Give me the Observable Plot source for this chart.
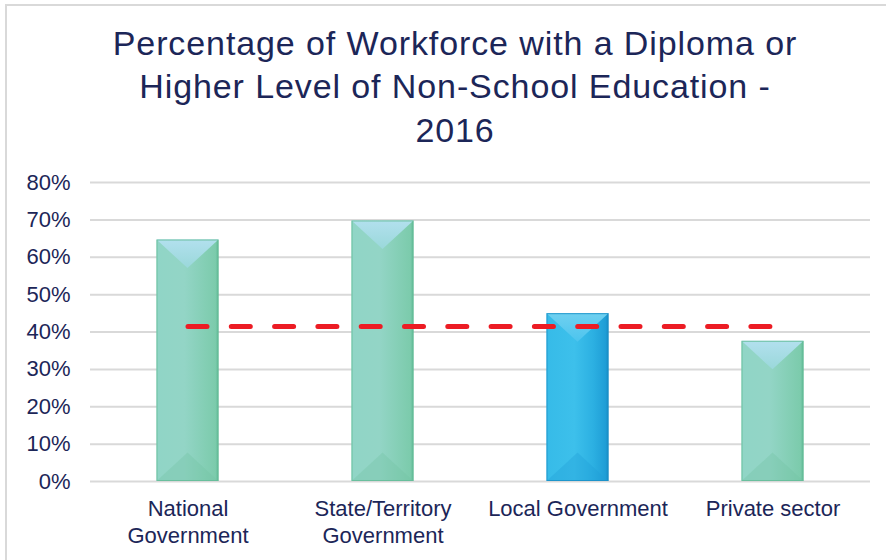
<!DOCTYPE html>
<html>
<head>
<meta charset="utf-8">
<script src="https://cdn.jsdelivr.net/npm/d3@7"></script>
<script src="https://cdn.jsdelivr.net/npm/@observablehq/plot@0.6"></script>
<style>
  html, body { margin: 0; padding: 0; background: #ffffff; overflow: hidden; }
  #wrap { position: relative; width: 886px; height: 560px; background: #fff; font-family: "Liberation Sans", Arial, sans-serif; }
  #bt { position: absolute; left: 5px; top: 4px; width: 881px; height: 2px; background: #d9d9d9; }
  #bl { position: absolute; left: 5px; top: 4px; width: 2px; height: 556px; background: #d9d9d9; }
  #title { position: absolute; left: 0; top: 22px; width: 910px; text-align: center; color: #1c2658;
           font-size: 34px; line-height: 43.3px; letter-spacing: 0.9px; }
  #chart { position: absolute; left: 0; top: 160px; }
</style>
</head>
<body>
<div id="wrap">
  <div id="bt"></div>
  <div id="bl"></div>
  <div id="title">Percentage of Workforce with a Diploma or<br>Higher Level of Non-School Education -<br>2016</div>
  <div id="chart"></div>
</div>
<script>
const categories = ["National Government", "State/Territory Government", "Local Government", "Private sector"];
const categoryLabels = ["National\nGovernment", "State/Territory\nGovernment", "Local Government", "Private sector"];
const values = [64.6, 69.7, 44.9, 37.5];
const allIndustriesAvg = 41.5;
const highlighted = "Local Government";
const yTicks = [0, 10, 20, 30, 40, 50, 60, 70, 80];

const data = categories.map((c, i) => ({cat: c, value: values[i]}));
const avgLine = categories.map(c => ({cat: c, value: allIndustriesAvg}));
const navy = "#1c2658";

function bevel(kind) {
  return function(index, scales, vals, dims, context, next) {
    const g = next(index, scales, vals, dims, context);
    const ns = "http://www.w3.org/2000/svg";
    const pal = kind === "blue"
      ? {top: "url(#topBlue)", bot: "#1f9fd6", edge: "#1a8fc6"}
      : {top: "url(#topGreen)", bot: "#72c4a4", edge: "#63bb97"};
    for (const rect of Array.from(g.querySelectorAll("rect"))) {
      const x = +rect.getAttribute("x"), y = +rect.getAttribute("y");
      const w = +rect.getAttribute("width"), h = +rect.getAttribute("height");
      const d = Math.min(w * 0.46, h / 2);
      const top = document.createElementNS(ns, "polygon");
      top.setAttribute("points", `${x},${y} ${x + w},${y} ${x + w / 2},${y + d}`);
      top.setAttribute("fill", pal.top);
      const bot = document.createElementNS(ns, "polygon");
      bot.setAttribute("points", `${x},${y + h} ${x + w},${y + h} ${x + w / 2},${y + h - d}`);
      bot.setAttribute("fill", pal.bot);
      bot.setAttribute("fill-opacity", "0.35");
      const outline = document.createElementNS(ns, "rect");
      outline.setAttribute("x", x + 0.5); outline.setAttribute("y", y + 0.5);
      outline.setAttribute("width", Math.max(0, w - 1)); outline.setAttribute("height", Math.max(0, h - 1));
      outline.setAttribute("fill", "none"); outline.setAttribute("stroke", pal.edge); outline.setAttribute("stroke-width", "1");
      outline.setAttribute("stroke-opacity", "0.8");
      rect.after(top, bot, outline);
    }
    return g;
  };
}

const plot = Plot.plot({
  width: 886,
  height: 400,
  marginTop: 22,
  marginBottom: 79,
  marginLeft: 90,
  marginRight: 16,
  style: {fontFamily: "'Liberation Sans', Arial, sans-serif", fontSize: "22px", color: navy, background: "transparent"},
  x: {domain: categories, padding: 0},
  y: {domain: [0, 80]},
  marks: [
    Plot.ruleY(yTicks, {stroke: "#d9d9d9", strokeWidth: 2}),
    Plot.barY(data.filter(d => d.cat !== highlighted), {x: "cat", y: "value", insetLeft: 66.5, insetRight: 66.5, fill: "url(#bodyGreen)", render: bevel("green")}),
    Plot.barY(data.filter(d => d.cat === highlighted), {x: "cat", y: "value", insetLeft: 66.5, insetRight: 66.5, fill: "url(#bodyBlue)", render: bevel("blue")}),
    Plot.lineY(avgLine, {x: "cat", y: "value", stroke: "#ec1c24", strokeWidth: 5, strokeDasharray: "19,24.3", strokeLinecap: "round"}),
    Plot.axisY({ticks: yTicks, tickSize: 0, tickPadding: 20, tickFormat: d => d + "%", label: null, fill: navy, fontSize: 22}),
    Plot.axisX({tickSize: 0, tickPadding: 15, tickFormat: c => categoryLabels[categories.indexOf(c)], label: null, fill: navy, fontSize: 22, lineHeight: 1.23})
  ]
});

const defs = `
<defs>
  <linearGradient id="bodyGreen" x1="0" y1="0" x2="1" y2="0">
    <stop offset="0" stop-color="#90d5c6"/>
    <stop offset="0.45" stop-color="#93d5c6"/>
    <stop offset="0.75" stop-color="#85cfb6"/>
    <stop offset="0.95" stop-color="#7ccbac"/>
    <stop offset="1" stop-color="#5fba95"/>
  </linearGradient>
  <linearGradient id="topGreen" x1="0" y1="0" x2="0" y2="1">
    <stop offset="0" stop-color="#b2e0ee"/>
    <stop offset="1" stop-color="#9ad8da"/>
  </linearGradient>
  <linearGradient id="bodyBlue" x1="0" y1="0" x2="1" y2="0">
    <stop offset="0" stop-color="#36bbe8"/>
    <stop offset="0.45" stop-color="#3dc0eb"/>
    <stop offset="0.75" stop-color="#2cb0e2"/>
    <stop offset="0.95" stop-color="#1f9ed6"/>
    <stop offset="1" stop-color="#178cc4"/>
  </linearGradient>
  <linearGradient id="topBlue" x1="0" y1="0" x2="0" y2="1">
    <stop offset="0" stop-color="#6fd0f0"/>
    <stop offset="1" stop-color="#4cc4ee"/>
  </linearGradient>
</defs>`;
plot.insertAdjacentHTML("afterbegin", defs);
document.getElementById("chart").appendChild(plot);
</script>
</body>
</html>
